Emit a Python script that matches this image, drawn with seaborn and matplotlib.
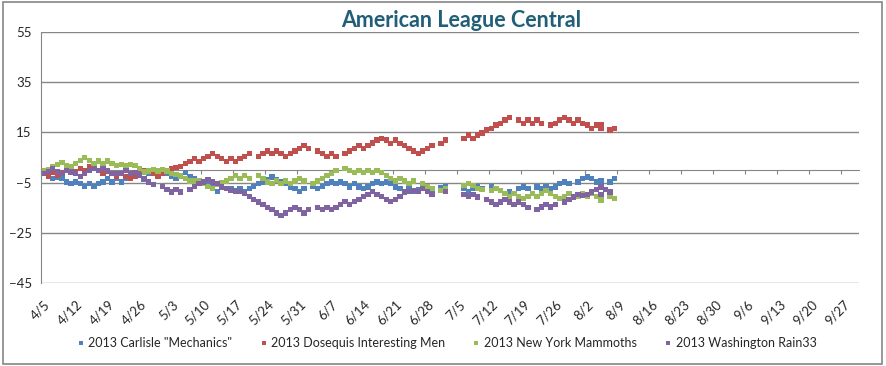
import numpy as np
import pandas as pd
import matplotlib
matplotlib.use("Agg")
import matplotlib.pyplot as plt
import matplotlib.dates as mdates
from matplotlib.ticker import FuncFormatter
from matplotlib.patches import Rectangle
import seaborn as sns

nan = np.nan

# games over / under .500, one value per day starting 4/5/2013
start_date = "2013-04-05"
teams = ['2013 Carlisle "Mechanics"', "2013 Dosequis Interesting Men",
         "2013 New York Mammoths", "2013 Washington Rain33"]
colors = ["#4F81BD", "#C0504D", "#9BBB59", "#8064A2"]

carlisle = [-1.0, -2.0, -3.4, -2.8, -3.4, -4.7, -5.4, -4.7, -5.4, -6.5,
            -5.4, -6.5, -5.4, -4.7, -3.4, -4.7, -3.4, -4.7, -3.4, -2.5,
            -2.5, -1.8, -3.8, -1.4, -1.4, -1.4, -1.4, -1.4, -2.5, -3.4,
            -2.1, -1.1, -2.5, -3.4, -4.5, -5.4, -6.0, -7.0, -8.5, -6.8,
            -7.4, -7.4, -8.1, -7.4, -8.7, -7.4, -6.5, -5.4, -4.7, -3.8,
            -2.8, -3.8, -4.7, -5.4, -6.8, -7.4, -8.5, -7.4, nan, -6.5,
            -7.4, -6.5, -5.4, -4.7, -5.4, -4.7, -5.4, -6.8, -5.4, -6.8,
            -7.4, -6.8, -5.4, -4.7, -5.4, -4.7, -5.4, -6.8, -7.4, -8.7,
            -7.4, -8.5, -8.0, -7.4, -7.8, -7.8, nan, -7.0, -6.5, nan,
            nan, nan, -7.4, -8.7, -7.4, -6.8, -7.4, nan, -6.8, -7.4,
            -8.1, nan, -8.7, nan, -7.4, -6.8, -7.4, nan, -6.8, -7.4,
            -6.8, -7.4, -6.8, -5.4, -4.7, -5.4, nan, -4.7, -3.4, -2.8,
            -3.4, -4.7, -4.1, nan, -4.7, -3.4]

dosequis = [-1.5, -2.4, -1.0, -2.0, -1.0, -0.3, 0.6, -0.7, 0.6, -0.3,
            1.5, 0.6, -0.3, -1.4, -0.7, -1.4, -2.5, -1.4, -2.5, -3.4,
            -2.5, -1.4, -0.3, -0.7, -1.4, -2.5, -1.4, -0.3, 0.6, 1.0,
            1.5, 2.6, 3.3, 4.6, 3.3, 4.6, 5.5, 6.6, 5.5, 4.6,
            3.3, 4.6, 3.3, 4.6, 5.5, 6.6, nan, 5.5, 6.6, 7.6,
            6.6, 7.6, 6.6, 5.5, 6.6, 7.6, 8.6, 9.9, 8.6, nan,
            7.6, 6.6, 5.5, 6.6, 5.5, nan, 6.6, 7.6, 8.6, 9.9,
            8.6, 9.9, 10.8, 11.9, 12.6, 11.9, 10.6, 11.9, 10.6, 9.9,
            8.6, 7.6, 6.6, 7.6, 8.6, 9.9, nan, 10.6, 11.9, nan,
            nan, nan, 12.6, 13.9, 12.6, 13.9, 14.8, 15.9, 16.6, 17.9,
            18.6, 19.9, 21.0, nan, 19.9, 18.6, 19.9, 18.6, 19.9, 18.6,
            nan, 17.9, 18.6, 19.9, 21.0, 19.9, 18.6, 19.9, 18.6, 17.9,
            16.6, 17.9, 17.9, nan, 15.9, 16.6]

new_york = [-0.4, 0.3, 1.2, 2.2, 2.9, 1.9, 1.2, 2.6, 3.9, 5.0,
            3.9, 2.6, 3.6, 2.6, 3.6, 2.6, 1.8, 2.3, 1.8, 2.3,
            1.8, 0.5, -0.8, -0.4, 0.3, -0.4, 0.2, -0.4, -1.4, -1.8,
            -2.3, -3.4, -4.3, -4.3, -4.3, -5.4, -6.5, -7.4, -5.5, -5.0,
            -4.3, -3.4, -2.1, -3.4, -2.1, -3.4, nan, -2.1, -3.4, -4.7,
            -5.4, -4.1, -5.4, -4.3, -5.4, -4.3, -3.4, -4.3, nan, -5.4,
            -4.3, -3.4, -2.1, -1.4, -0.1, nan, 0.6, -0.1, -1.1, -0.1,
            -1.1, -0.1, -1.1, -0.1, -1.1, -2.1, -3.4, -4.3, -3.4, -4.3,
            -5.4, -4.3, nan, -5.4, -6.5, -7.4, nan, -8.1, -7.4, nan,
            nan, nan, -6.1, -5.4, -6.1, -7.4, -7.8, nan, -8.1, -7.4,
            -8.1, -9.4, -10.5, -9.4, -10.5, -11.4, -10.5, -9.4, -10.5, -9.4,
            -8.1, -9.4, -10.5, -11.4, -10.5, -9.4, nan, -10.5, -9.4, -10.5,
            -9.4, -10.5, -10.5, nan, -10.5, -11.4]

washington = [-1.4, -0.7, 0.6, -0.7, -1.4, -0.3, -0.8, -1.4, -2.5, -1.4,
              -0.3, 0.6, -0.3, 0.6, -0.3, -1.4, -1.4, -1.4, -0.3, -1.4,
              -1.0, -2.0, -3.4, -4.7, -5.7, nan, -6.5, -7.8, -8.7, -7.8,
              -8.7, nan, -7.8, -6.5, -5.4, -4.7, -3.8, -4.7, -5.4, -6.8,
              -7.4, -8.1, -8.5, -8.5, -9.4, -10.5, -11.8, -12.8, -13.7, -15.0,
              -15.8, -17.1, -18.1, -17.1, -15.8, -15.0, -15.8, -17.1, -15.8, nan,
              -15.0, -15.8, -15.0, -15.8, -15.0, -13.7, -12.5, -13.7, -12.5, -11.8,
              -10.5, -9.7, -8.5, -9.7, -10.5, -11.8, -12.5, -11.8, -10.5, -8.5,
              -8.5, -8.1, -8.5, -7.4, -8.5, -9.7, nan, nan, -8.5, nan,
              nan, nan, -9.7, -10.5, -9.7, -10.7, nan, -11.8, -12.8, -13.8,
              -12.8, -11.8, -12.8, -13.8, -12.8, -13.8, -15.0, nan, -15.7, -14.8,
              -13.8, -14.8, -13.8, nan, -12.8, -11.8, -10.7, -9.7, -10.2, -9.7,
              -8.7, -7.8, -6.8, -7.8, -8.7, nan]

# second entries logged on 8/5
extra_date = "2013-08-05"
carlisle_extra = [-4.7]
dosequis_extra = [16.6]
new_york_extra = [-11.4, -12.1]
washington_extra = [-9.7]

week_ticks = pd.date_range("2013-04-05", "2013-09-27", freq="7D")

dates = pd.date_range(start_date, periods=len(carlisle), freq="D")
frames = []
for team, vals, extra in zip(teams,
                             [carlisle, dosequis, new_york, washington],
                             [carlisle_extra, dosequis_extra, new_york_extra, washington_extra]):
    frames.append(pd.DataFrame({"date": dates, "value": vals, "team": team}))
    frames.append(pd.DataFrame({"date": pd.to_datetime([extra_date] * len(extra)),
                                "value": extra, "team": team}))
df = pd.concat(frames, ignore_index=True).dropna()
# Excel puts the markers (and labels) in the middle of each day
half_day = pd.Timedelta(hours=12)
df["x"] = df["date"] + half_day

sns.set_style("white")
plt.rcParams["font.family"] = ["Lato", "DejaVu Sans"]

fig = plt.figure(figsize=(8.86, 3.66), dpi=100)
ax = fig.add_axes([0.0467, 0.2268, 0.9228, 0.6858])

sns.scatterplot(data=df, x="x", y="value", hue="team", hue_order=teams,
                palette=colors, marker="s", s=15, linewidth=0, ax=ax)

ymin, ymax = -45, 55
ax.set_ylim(ymin, ymax)
ax.set_yticks(range(-45, 56, 20))
ax.set_xlim(pd.Timestamp("2013-04-05"), pd.Timestamp("2013-10-01"))
ax.set_xticks(week_ticks + half_day)
ax.xaxis.set_major_formatter(FuncFormatter(
    lambda v, p: "{}/{}".format(mdates.num2date(v).month, mdates.num2date(v).day)))
ax.grid(axis="y", color="#868686", linewidth=1.0)
ax.set_axisbelow(True)
ax.set_xlabel("")
ax.set_ylabel("")
for side in ["top", "right", "bottom"]:
    ax.spines[side].set_visible(False)
ax.spines["left"].set_color("#868686")
ax.tick_params(axis="y", length=4, color="#868686", labelsize=9.5, pad=3)
ax.tick_params(axis="x", length=0, labelsize=9.5, pad=11)
plt.setp(ax.get_xticklabels(), rotation=45, ha="right", rotation_mode="anchor")

# horizontal axis crosses at zero
zero_axis = ax.secondary_xaxis((0 - ymin) / (ymax - ymin))
zero_axis.set_xticks(week_ticks)
zero_axis.set_xticklabels([])
zero_axis.spines["bottom"].set_color("#868686")
zero_axis.tick_params(length=3, color="#868686", direction="out")

fig.text(0.52, 0.926, "American League Central", color="#215E78", fontsize=15.5,
         fontweight="bold", ha="center", va="baseline")

sns.move_legend(ax, "center", bbox_to_anchor=(0.495, -0.24), ncol=4,
                frameon=False, title=None, fontsize=9, markerscale=0.6,
                handlelength=0.8, handletextpad=0.2, columnspacing=2.1)

fig.patches.append(Rectangle((0.003, 0.005), 0.993, 0.99, transform=fig.transFigure,
                             fill=False, edgecolor="#868686", linewidth=1.2))

fig.savefig("out.png", dpi=100)
